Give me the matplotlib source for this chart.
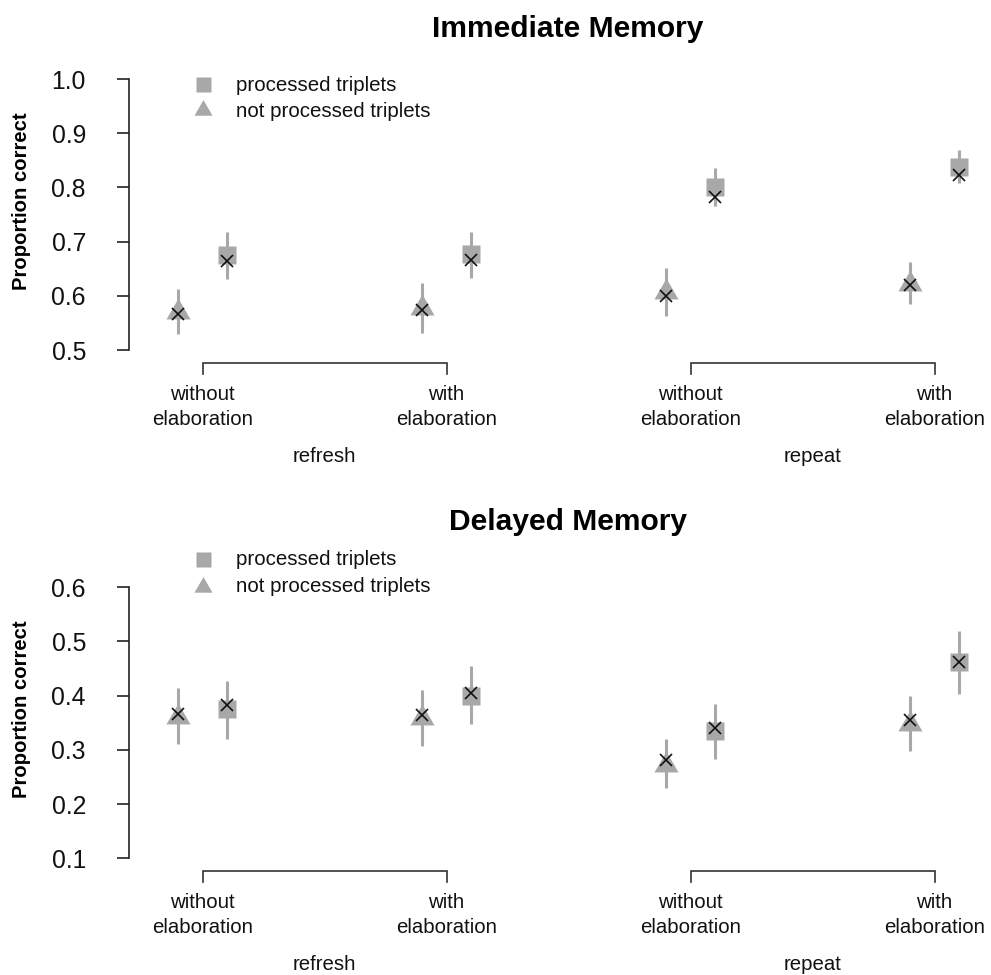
import matplotlib
matplotlib.use("Agg")
import matplotlib.pyplot as plt
from matplotlib.path import Path
import numpy as np

plt.rcParams['font.family'] = ['Liberation Sans', 'DejaVu Sans']

# ---------------- data ----------------
conditions = ["without\nelaboration", "with\nelaboration", "without\nelaboration", "with\nelaboration"]
groups = ["refresh", "repeat"]
legend_labels = ["processed triplets", "not processed triplets"]
panel_titles = ["Immediate Memory", "Delayed Memory"]
ylabel = "Proportion correct"

# Immediate memory
imm_np_mean = [0.570, 0.578, 0.607, 0.622]
imm_np_lo = [0.529, 0.531, 0.563, 0.584]
imm_np_hi = [0.612, 0.623, 0.652, 0.663]
imm_np_x = [0.566, 0.573, 0.599, 0.620]
imm_p_mean = [0.676, 0.677, 0.801, 0.837]
imm_p_lo = [0.631, 0.633, 0.766, 0.809]
imm_p_hi = [0.718, 0.718, 0.835, 0.869]
imm_p_x = [0.664, 0.666, 0.783, 0.822]

# Delayed memory
del_np_mean = [0.361, 0.358, 0.272, 0.348]
del_np_lo = [0.311, 0.307, 0.229, 0.298]
del_np_hi = [0.414, 0.410, 0.320, 0.400]
del_np_x = [0.366, 0.364, 0.281, 0.355]
del_p_mean = [0.375, 0.400, 0.334, 0.462]
del_p_lo = [0.321, 0.347, 0.284, 0.404]
del_p_hi = [0.428, 0.455, 0.385, 0.519]
del_p_x = [0.382, 0.405, 0.340, 0.462]

imm_yticks = [0.5, 0.6, 0.7, 0.8, 0.9, 1.0]
del_yticks = [0.1, 0.2, 0.3, 0.4, 0.5, 0.6]

# ---------------- style ----------------
W, H = 991, 975
GRAY = '#a8a8a8'
TRI = Path([(0, 1), (-0.866, -0.5), (0.866, -0.5), (0, 1)],
           [Path.MOVETO, Path.LINETO, Path.LINETO, Path.CLOSEPOLY])

fig = plt.figure(figsize=(W / 100, H / 100), dpi=100)

def fx(px):
    return px / W

def fy(py):
    return 1 - py / H

x_left = 1 - 73.5 / 244
x_right = 1 + (991 - 202.5) / 244
centers = np.arange(1, 5)
off = 0.1

panels = [
    dict(top=79, yticks=imm_yticks, title=panel_titles[0], title_y=37,
         np=(imm_np_mean, imm_np_lo, imm_np_hi, imm_np_x),
         p=(imm_p_mean, imm_p_lo, imm_p_hi, imm_p_x),
         leg=(84, 110, 91, 117), ylab_y=201),
    dict(top=587.3, yticks=del_yticks, title=panel_titles[1], title_y=530,
         np=(del_np_mean, del_np_lo, del_np_hi, del_np_x),
         p=(del_p_mean, del_p_lo, del_p_hi, del_p_x),
         leg=(559.3, 586.7, 565, 592.3), ylab_y=709),
]

for pnl in panels:
    top = pnl['top']
    bot = top + 271
    ax = fig.add_axes([fx(129), fy(bot), 1 - fx(129), 271 / H])
    yt = pnl['yticks']
    ax.set_xlim(x_left, x_right)
    ax.set_ylim(yt[0], yt[-1])
    ax.patch.set_alpha(0)
    for s in ['top', 'right', 'bottom']:
        ax.spines[s].set_visible(False)
    ax.spines['left'].set_linewidth(1.2)
    ax.spines['left'].set_color('#222222')
    ax.spines['left'].set_bounds(yt[0], yt[-1])
    ax.set_yticks(yt)
    ax.set_yticklabels([f"{v:.1f}" for v in yt])
    ax.tick_params(axis='y', length=9, width=1.2, color='#222222', pad=22,
                   labelsize=17.8, labelcolor='#111111')
    ax.set_xticks([])

    # series
    for key, xs_off, marker, ms in [('np', -off, TRI, 20), ('p', off, 's', 13)]:
        mean, lo, hi, xm = pnl[key]
        xs = centers + xs_off
        ax.vlines(xs, lo, hi, color=GRAY, lw=2.2, clip_on=False, zorder=2)
        ax.plot(xs, mean, linestyle='none', marker=marker, ms=ms, color=GRAY,
                mec='none', clip_on=False, zorder=3)
        ax.plot(xs, xm, linestyle='none', marker='x', ms=8.5, mew=1.2,
                color='#111111', clip_on=False, zorder=4)

    # brackets and labels
    tr = ax.get_xaxis_transform()
    yb = -12.7 / 271
    yt_end = -24.0 / 271
    for g, (a, b) in enumerate([(1, 2), (3, 4)]):
        ax.plot([a, a, b, b], [yt_end, yb, yb, yt_end], color='#333333', lw=1.2,
                transform=tr, clip_on=False, solid_joinstyle='miter')
        ax.text((a + b) / 2, -(461.7 - 350) / 271, groups[g], transform=tr,
                ha='center', va='baseline', fontsize=14.7, color='#111111')
    for i, c in enumerate(conditions):
        l1, l2 = c.split('\n')
        ax.text(centers[i], -(400 - 350) / 271, l1, transform=tr, ha='center',
                va='baseline', fontsize=14.7, color='#111111')
        ax.text(centers[i], -(425 - 350) / 271, l2, transform=tr, ha='center',
                va='baseline', fontsize=14.7, color='#111111')

    # title
    fig.text(fx(568), fy(pnl['title_y']), pnl['title'], ha='center', va='baseline',
             fontsize=21.6, fontweight='bold', color='#000000')
    # y label
    fig.text(fx(27), fy(pnl['ylab_y']), ylabel, rotation=90, rotation_mode='anchor',
             ha='center', va='baseline', fontsize=14.6, fontweight='bold', color='#000000')

    # legend
    sq_y, tri_y, b1, b2 = pnl['leg']
    fig.lines.append(plt.Line2D([fx(203)], [fy(sq_y)], marker='s', ms=10.8, color=GRAY,
                                mec='none', linestyle='none', transform=fig.transFigure))
    fig.lines.append(plt.Line2D([fx(203)], [fy(tri_y)], marker=TRI, ms=15, color=GRAY,
                                mec='none', linestyle='none', transform=fig.transFigure))
    fig.text(fx(235.5), fy(b1), legend_labels[0], ha='left', va='baseline',
             fontsize=14.8, color='#111111')
    fig.text(fx(235.5), fy(b2), legend_labels[1], ha='left', va='baseline',
             fontsize=14.8, color='#111111')

fig.savefig("out.png", dpi=100, facecolor='white')
